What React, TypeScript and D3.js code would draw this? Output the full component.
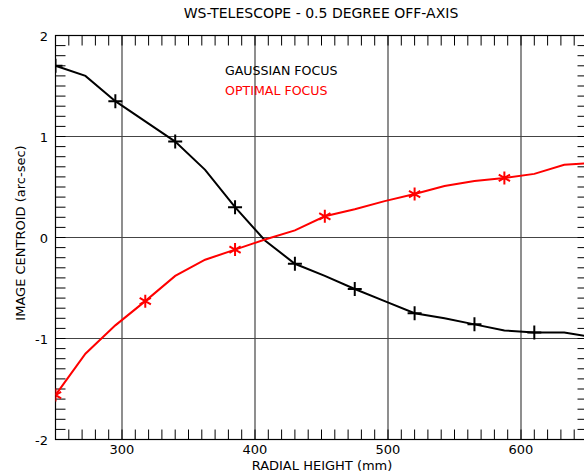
import React from "react";
import * as d3 from "d3";

const radialHeight = [250, 272.5, 295, 317.5, 340, 362.5, 385, 407.5, 430, 452.5, 475, 497.5, 520, 542.5, 565, 587.5, 610, 632.5, 655];
const gaussianFocus = [1.70, 1.60, 1.35, 1.15, 0.95, 0.67, 0.30, -0.03, -0.26, -0.38, -0.51, -0.63, -0.75, -0.80, -0.86, -0.92, -0.94, -0.94, -0.99];
const optimalFocus = [-1.56, -1.15, -0.87, -0.63, -0.38, -0.22, -0.12, -0.02, 0.07, 0.21, 0.28, 0.36, 0.43, 0.51, 0.56, 0.59, 0.63, 0.72, 0.74];
const gaussianMarkerEvery = 2;
const optimalMarkerEvery = 3;
const xMajorTicks = [300, 400, 500, 600];
const yMajorTicks = [2, 1, 0, -1, -2];
const titleText = "WS-TELESCOPE - 0.5 DEGREE OFF-AXIS";
const xLabel = "RADIAL HEIGHT (mm)";
const yLabel = "IMAGE CENTROID (arc-sec)";
const legendLabels = ["GAUSSIAN FOCUS", "OPTIMAL FOCUS"];

export default function App() {
  const W = 584, H = 474;
  const left = 55.5, right = 587.5, top = 35.5, bottom = 439.5;
  const x = d3.scaleLinear().domain([250, 650]).range([left, right]);
  const y = d3.scaleLinear().domain([-2, 2]).range([bottom, top]);
  const font = "DejaVu Sans, sans-serif";
  const line = d3.line<number>().x((_, i) => x(radialHeight[i])).y((d) => y(d));
  const xMinor = d3.range(250, 651, 10);
  const yMinor = d3.range(-20, 21).map((v) => v / 10);
  const tl = 10;

  const plus = (cx: number, cy: number, s: number) => `M${cx - s},${cy}H${cx + s}M${cx},${cy - s}V${cy + s}`;
  const star = (cx: number, cy: number, s: number) => {
    let p = "";
    for (let k = 0; k < 3; k++) {
      const a = (Math.PI / 3) * k + Math.PI / 2;
      const dx = Math.cos(a) * s, dy = Math.sin(a) * s;
      p += `M${cx - dx},${cy - dy}L${cx + dx},${cy + dy}`;
    }
    return p;
  };

  return (
    <svg width={W} height={H} style={{ position: "absolute", left: 0, top: 0, background: "#fff" }}>
      <defs>
        <clipPath id="plot">
          <rect x={left} y={top} width={right - left} height={bottom - top} />
        </clipPath>
      </defs>
      <text x={321} y={18} textAnchor="middle" fontFamily={font} fontSize={14} fill="#000">{titleText}</text>
      {xMajorTicks.map((v) => (
        <line key={"gx" + v} x1={x(v)} x2={x(v)} y1={top} y2={bottom} stroke="#444" strokeWidth={1.2} />
      ))}
      {yMajorTicks.filter((v) => v > -2 && v < 2).map((v) => (
        <line key={"gy" + v} x1={left} x2={right} y1={y(v)} y2={y(v)} stroke="#444" strokeWidth={1.2} />
      ))}
      {xMinor.map((v) => (
        <g key={"tx" + v}>
          <line x1={x(v)} x2={x(v)} y1={top} y2={top + tl} stroke="#000" />
          <line x1={x(v)} x2={x(v)} y1={bottom} y2={bottom - tl} stroke="#000" />
        </g>
      ))}
      {yMinor.map((v) => (
        <g key={"ty" + v}>
          <line x1={left} x2={left + tl} y1={y(v)} y2={y(v)} stroke="#000" />
          <line x1={right} x2={right - tl} y1={y(v)} y2={y(v)} stroke="#000" />
        </g>
      ))}
      <rect x={left} y={top} width={right - left} height={bottom - top} fill="none" stroke="#000" strokeWidth={1.2} />
      {xMajorTicks.map((v) => (
        <text key={"lx" + v} x={x(v)} y={454} textAnchor="middle" fontFamily={font} fontSize={13} fill="#000">{v}</text>
      ))}
      {yMajorTicks.map((v) => (
        <text key={"ly" + v} x={48} y={y(v) + 5} textAnchor="end" fontFamily={font} fontSize={13} fill="#000">{v}</text>
      ))}
      <text x={322} y={470} textAnchor="middle" fontFamily={font} fontSize={13} fill="#000">{xLabel}</text>
      <text transform={`translate(25,${233}) rotate(-90)`} textAnchor="middle" fontFamily={font} fontSize={13} fill="#000">{yLabel}</text>
      <text x={225} y={75} fontFamily={font} fontSize={12.6} fill="#000">{legendLabels[0]}</text>
      <text x={225} y={95} fontFamily={font} fontSize={12.6} fill="#ff0000">{legendLabels[1]}</text>
      <g clipPath="url(#plot)">
        <path d={line(gaussianFocus) || ""} fill="none" stroke="#000" strokeWidth={2} />
        <path d={line(optimalFocus) || ""} fill="none" stroke="#ff0000" strokeWidth={2} />
        {gaussianFocus.map((v, i) =>
          i % gaussianMarkerEvery === 0 ? (
            <path key={"gm" + i} d={plus(x(radialHeight[i]), y(v), 7)} stroke="#000" strokeWidth={2} fill="none" />
          ) : null
        )}
        {optimalFocus.map((v, i) =>
          i % optimalMarkerEvery === 0 ? (
            <path key={"om" + i} d={star(x(radialHeight[i]), y(v), 6.5)} stroke="#ff0000" strokeWidth={2} fill="none" />
          ) : null
        )}
      </g>
    </svg>
  );
}
